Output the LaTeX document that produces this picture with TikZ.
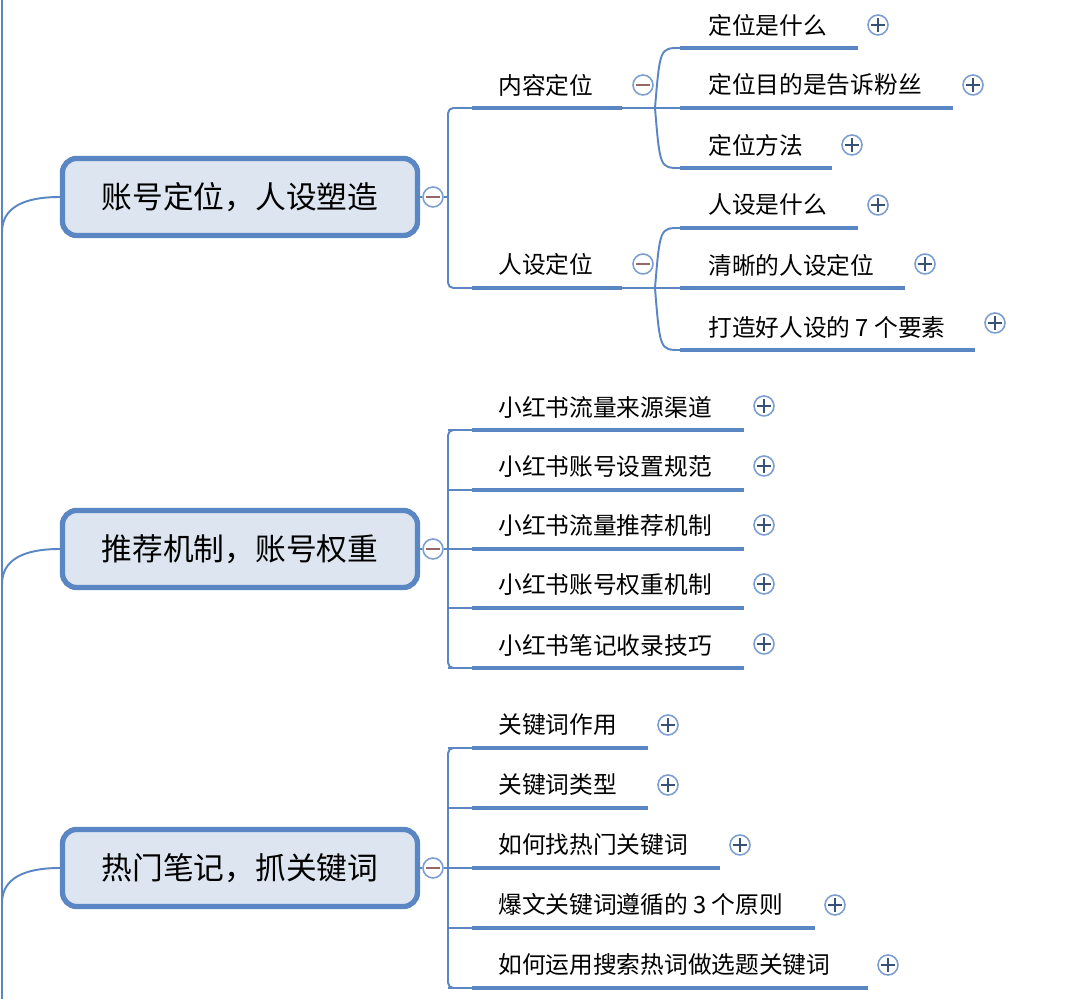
\documentclass[tikz,border=0pt]{standalone}
\usepackage{fontspec}
\setmainfont{Noto Sans CJK SC}
\definecolor{mapblue}{HTML}{5B86C4}
\definecolor{mapfill}{HTML}{DDE5F0}
\tikzset{
  topic/.style={draw=mapblue, line width=3pt, rounded corners=8pt, fill=mapfill,
    minimum width=355*0.02cm, minimum height=77*0.02cm, font=\fontsize{17.5}{20}\selectfont},
  leaf/.style={anchor=west, inner sep=0pt, font=\fontsize{13.5}{15}\selectfont},
  bar/.style={draw=mapblue, line width=2.8pt},
  twig/.style={draw=mapblue, line width=1.1pt},
  toggle/.style={circle, draw=mapblue!80, line width=0.9pt, fill=white, minimum size=20*0.02cm, inner sep=0pt},
  plus/.style={toggle, path picture={\draw[mapblue!60!black, line width=0.9pt]
    ([xshift=-4pt]path picture bounding box.center) -- ([xshift=4pt]path picture bounding box.center)
    ([yshift=-4pt]path picture bounding box.center) -- ([yshift=4pt]path picture bounding box.center);}},
  minus/.style={toggle, path picture={\draw[red!20!gray, line width=0.9pt]
    ([xshift=-4pt]path picture bounding box.center) -- ([xshift=4pt]path picture bounding box.center);}}
}
\begin{document}
\begin{tikzpicture}[x=0.02cm, y=-0.02cm]
\useasboundingbox (0,0) rectangle (1080,999);

% trunk
\draw[twig] (2,0) -- (2,999);
\node[topic] (t1) at (240,197) {账号定位，人设塑造};
\node[topic] (t2) at (240,549) {推荐机制，账号权重};
\node[topic] (t3) at (240,868) {热门笔记，抓关键词};
\foreach \t in {t1,t2,t3}
  \draw[twig] (2,0 |- \t.west) ++(0,35) .. controls +(0,-30) and +(-25,0) .. (\t.west);

% first topic
\node[minus] (m1) at (433,197) {};
\draw[twig] (t1.east) -- (m1.west);
\coordinate (j1) at (448,197);
\draw[twig] (m1.east) -- (j1);
\node[leaf] (a1) at (498,85) {内容定位};
\node[leaf] (a2) at (498,264) {人设定位};
\node[minus] (ma1) at (643,85) {};
\node[minus] (ma2) at (643,264) {};
\draw[twig, rounded corners=3pt] (472,108) -- (448,108) -- (448,288) -- (472,288);
\draw[bar] (472,108) -- (622,108);
\draw[bar] (472,288) -- (622,288);
\draw[twig] (622,108) -- (655,108);
\draw[twig] (622,288) -- (655,288);
\foreach \y/\e/\txt/\py in {48/858/定位是什么/25, 108/953/定位目的是告诉粉丝/85, 168/832/定位方法/145} {
  \node[leaf] (b\y) at (708,\y-23) {\txt};
  \draw[twig] (655,108) .. controls (660,\y) .. (680,\y);
  \draw[bar] (680,\y) -- (\e,\y);
  \node[plus] (p\y) at (\e+20,\py) {};
}
\foreach \y/\e/\txt/\py in {228/858/人设是什么/205, 288/905/清晰的人设定位/264, 350/975/打造好人设的 7 个要素/323} {
  \node[leaf] (b\y) at (708,\y-23) {\txt};
  \draw[twig] (655,288) .. controls (660,\y) .. (680,\y);
  \draw[bar] (680,\y) -- (\e,\y);
  \node[plus] (p\y) at (\e+20,\py) {};
}

% second topic
\node[minus] (m2) at (433,549) {};
\draw[twig] (t2.east) -- (m2.west);
\draw[twig] (m2.east) -- (448,549);
\draw[twig, rounded corners=3pt] (472,430) -- (448,430) -- (448,668) -- (472,668);
\foreach \y/\txt in {430/小红书流量来源渠道, 490/小红书账号设置规范, 549/小红书流量推荐机制, 608/小红书账号权重机制, 668/小红书笔记收录技巧} {
  \node[leaf] (c\y) at (498,\y-23) {\txt};
  \draw[twig] (448,\y) -- (472,\y);
  \draw[bar] (472,\y) -- (744,\y);
  \node[plus] (q\y) at (764,\y-24) {};
}

% third topic
\node[minus] (m3) at (433,868) {};
\draw[twig] (t3.east) -- (m3.west);
\draw[twig] (m3.east) -- (448,868);
\draw[twig, rounded corners=3pt] (472,748) -- (448,748) -- (448,988) -- (472,988);
\foreach \y/\e/\txt in {748/648/关键词作用, 808/648/关键词类型, 868/720/如何找热门关键词, 928/815/爆文关键词遵循的 3 个原则, 988/868/如何运用搜索热词做选题关键词} {
  \node[leaf] (d\y) at (498,\y-23) {\txt};
  \draw[twig] (448,\y) -- (472,\y);
  \draw[bar] (472,\y) -- (\e,\y);
  \node[plus] (r\y) at (\e+20,\y-23) {};
}
\end{tikzpicture}
\end{document}
